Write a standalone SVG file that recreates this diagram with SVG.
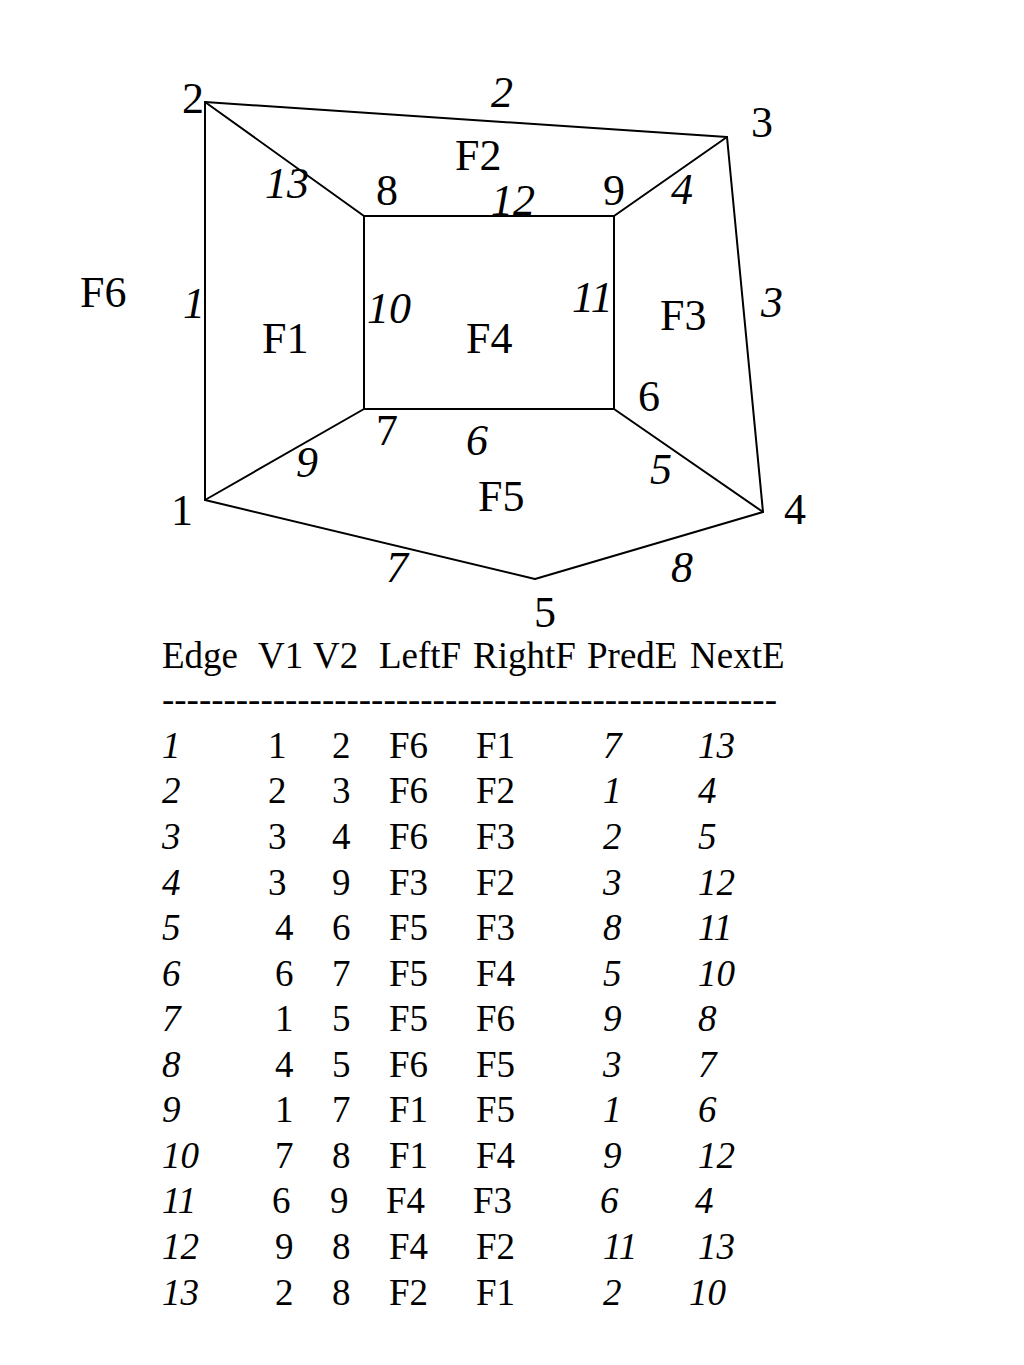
<svg xmlns="http://www.w3.org/2000/svg" width="1024" height="1365" viewBox="0 0 1024 1365">
<style>
text{font-family:"Liberation Serif","Times New Roman",serif;fill:#000}
.d{font-size:44px}
.t{font-size:37px}
.i{font-style:italic}
.e{stroke:#000;stroke-width:2;fill:none;stroke-linecap:round}
</style>
<rect width="1024" height="1365" fill="#fff"/>
<g id="connectors">
<line id="e1" class="e" x1="205" y1="500" x2="205" y2="102"/>
<line id="e2" class="e" x1="205" y1="102" x2="727" y2="137"/>
<line id="e3" class="e" x1="727" y1="137" x2="763" y2="512"/>
<line id="e4" class="e" x1="727" y1="137" x2="614" y2="216"/>
<line id="e5" class="e" x1="763" y1="512" x2="614" y2="409"/>
<line id="e6" class="e" x1="614" y1="409" x2="364" y2="409"/>
<line id="e7" class="e" x1="205" y1="500" x2="535" y2="579"/>
<line id="e8" class="e" x1="763" y1="512" x2="535" y2="579"/>
<line id="e9" class="e" x1="205" y1="500" x2="364" y2="409"/>
<line id="e10" class="e" x1="364" y1="409" x2="364" y2="216"/>
<line id="e11" class="e" x1="614" y1="409" x2="614" y2="216"/>
<line id="e12" class="e" x1="614" y1="216" x2="364" y2="216"/>
<line id="e13" class="e" x1="205" y1="102" x2="364" y2="216"/>
<g class="d i">
<text x="491" y="107">2</text>
<text x="265" y="198">13</text>
<text x="491" y="215">12</text>
<text x="671" y="204">4</text>
<text x="183" y="318">1</text>
<text x="367" y="323">10</text>
<text x="572" y="312">11</text>
<text x="761" y="317">3</text>
<text x="296" y="477">9</text>
<text x="466" y="455">6</text>
<text x="650" y="484">5</text>
<text x="386" y="582">7</text>
<text x="671" y="582">8</text>
</g>
</g>
<g class="d">
<g id="v1"><text x="171" y="525">1</text></g>
<g id="v2"><text x="182" y="113">2</text></g>
<g id="v3"><text x="751" y="137">3</text></g>
<g id="v4"><text x="784" y="524">4</text></g>
<g id="v5"><text x="534" y="627">5</text></g>
<g id="v6"><text x="638" y="411">6</text></g>
<g id="v7"><text x="376" y="445">7</text></g>
<g id="v8"><text x="376" y="205">8</text></g>
<g id="v9"><text x="603" y="205">9</text></g>
<g id="f1"><text x="262" y="353">F1</text></g>
<g id="f2"><text x="455" y="170">F2</text></g>
<g id="f3"><text x="660" y="330">F3</text></g>
<g id="f4"><text x="466" y="353">F4</text></g>
<g id="f5"><text x="478" y="511">F5</text></g>
<g id="f6"><text x="80" y="307">F6</text></g>
</g>
<g id="table" class="t">
<text x="162" y="668">Edge</text>
<text x="258" y="668">V1</text>
<text x="313" y="668">V2</text>
<text x="379" y="668">LeftF</text>
<text x="473" y="668">RightF</text>
<text x="587" y="668">PredE</text>
<text x="690" y="668">NextE</text>
<text x="162" y="712" textLength="615" lengthAdjust="spacing">--------------------------------------------------</text>
<g class="i">
<text x="162" y="758">1</text>
<text x="162" y="803">2</text>
<text x="162" y="849">3</text>
<text x="162" y="895">4</text>
<text x="162" y="940">5</text>
<text x="162" y="986">6</text>
<text x="162" y="1031">7</text>
<text x="162" y="1077">8</text>
<text x="162" y="1122">9</text>
<text x="162" y="1168">10</text>
<text x="162" y="1213">11</text>
<text x="162" y="1259">12</text>
<text x="162" y="1305">13</text>
</g>
<text x="268" y="758">1</text><text x="332" y="758">2</text><text x="389" y="758">F6</text><text x="476" y="758">F1</text>
<text x="268" y="803">2</text><text x="332" y="803">3</text><text x="389" y="803">F6</text><text x="476" y="803">F2</text>
<text x="268" y="849">3</text><text x="332" y="849">4</text><text x="389" y="849">F6</text><text x="476" y="849">F3</text>
<text x="268" y="895">3</text><text x="332" y="895">9</text><text x="389" y="895">F3</text><text x="476" y="895">F2</text>
<text x="275" y="940">4</text><text x="332" y="940">6</text><text x="389" y="940">F5</text><text x="476" y="940">F3</text>
<text x="275" y="986">6</text><text x="332" y="986">7</text><text x="389" y="986">F5</text><text x="476" y="986">F4</text>
<text x="275" y="1031">1</text><text x="332" y="1031">5</text><text x="389" y="1031">F5</text><text x="476" y="1031">F6</text>
<text x="275" y="1077">4</text><text x="332" y="1077">5</text><text x="389" y="1077">F6</text><text x="476" y="1077">F5</text>
<text x="275" y="1122">1</text><text x="332" y="1122">7</text><text x="389" y="1122">F1</text><text x="476" y="1122">F5</text>
<text x="275" y="1168">7</text><text x="332" y="1168">8</text><text x="389" y="1168">F1</text><text x="476" y="1168">F4</text>
<text x="272" y="1213">6</text><text x="330" y="1213">9</text><text x="386" y="1213">F4</text><text x="473" y="1213">F3</text>
<text x="275" y="1259">9</text><text x="332" y="1259">8</text><text x="389" y="1259">F4</text><text x="476" y="1259">F2</text>
<text x="275" y="1305">2</text><text x="332" y="1305">8</text><text x="389" y="1305">F2</text><text x="476" y="1305">F1</text>
<g class="i">
<text x="603" y="758">7</text><text x="698" y="758">13</text>
<text x="603" y="803">1</text><text x="698" y="803">4</text>
<text x="603" y="849">2</text><text x="698" y="849">5</text>
<text x="603" y="895">3</text><text x="698" y="895">12</text>
<text x="603" y="940">8</text><text x="698" y="940">11</text>
<text x="603" y="986">5</text><text x="698" y="986">10</text>
<text x="603" y="1031">9</text><text x="698" y="1031">8</text>
<text x="603" y="1077">3</text><text x="698" y="1077">7</text>
<text x="603" y="1122">1</text><text x="698" y="1122">6</text>
<text x="603" y="1168">9</text><text x="698" y="1168">12</text>
<text x="600" y="1213">6</text><text x="695" y="1213">4</text>
<text x="603" y="1259">11</text><text x="698" y="1259">13</text>
<text x="603" y="1305">2</text><text x="689" y="1305">10</text>
</g>
</g>
</svg>
